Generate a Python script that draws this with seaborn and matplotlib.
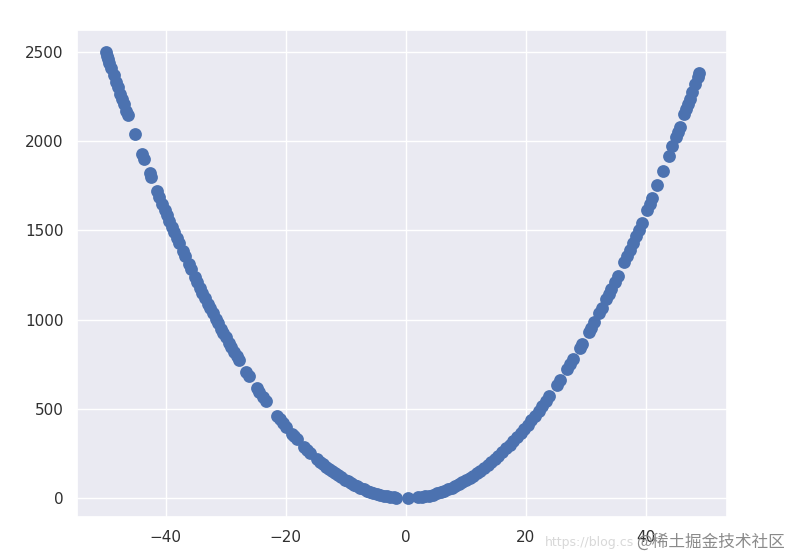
import seaborn as sns
import pandas as pd
import matplotlib.pyplot as plt
from matplotlib import use

use('agg')

# values (x position, y position of each dot)
x_vals = [
    -50.0, -49.8, -49.6, -49.4, -49.1, -48.7, -48.3, -48.0, -47.6, -47.3,
    -47.0, -46.6, -46.3, -45.2, -43.9, -43.6, -42.7, -42.4, -41.5, -41.1,
    -40.6, -40.2, -39.8, -39.4, -39.0, -38.6, -38.2, -37.8, -37.2, -36.8,
    -36.2, -35.8, -35.2, -34.8, -34.3, -33.9, -33.5, -33.0, -32.6, -32.2,
    -31.7, -31.3, -30.8, -30.4, -30.0, -29.5, -29.1, -28.6, -28.2, -27.8,
    -26.6, -26.2, -24.8, -24.4, -23.8, -23.3, -21.4, -21.0, -20.5, -20.0,
    -19.0, -18.6, -18.2, -16.9, -16.4, -15.9, -14.8, -14.3, -13.8, -13.3,
    -12.8, -12.3, -11.8, -11.3, -10.8, -10.2, -9.7, -9.2, -8.6, -8.1,
    -7.6, -7.0, -6.5, -5.9, -5.4, -4.8, -4.3, -3.7, -3.1, -2.6,
    -2.0, -1.6, 0.3, 2.0, 2.6, 3.2, 3.8, 4.5, 5.1, 5.8,
    6.4, 7.0, 7.6, 8.2, 8.8, 9.4, 10.0, 10.6, 11.2, 11.8,
    12.4, 13.0, 13.6, 14.2, 14.8, 15.4, 16.0, 16.7, 17.3, 17.9,
    18.5, 19.1, 19.7, 20.3, 20.9, 21.5, 22.1, 22.7, 23.3, 23.9,
    25.2, 25.7, 26.9, 27.4, 27.9, 29.0, 29.4, 30.5, 30.9, 31.4,
    32.2, 32.6, 33.4, 33.8, 34.2, 34.8, 35.3, 36.4, 36.8, 37.3,
    37.8, 38.3, 38.8, 39.3, 40.2, 40.6, 41.0, 41.9, 42.8, 43.8,
    44.4, 45.0, 45.3, 45.6, 46.4, 46.7, 47.0, 47.3, 47.7, 48.2,
    48.6, 48.8,
]
y_vals = [
    2500, 2480, 2460, 2440, 2411, 2372, 2333, 2304, 2266, 2237,
    2209, 2172, 2144, 2043, 1927, 1901, 1823, 1798, 1722, 1689,
    1648, 1616, 1584, 1552, 1521, 1490, 1459, 1429, 1384, 1354,
    1310, 1282, 1239, 1211, 1176, 1149, 1122, 1089, 1063, 1037,
    1005, 980, 949, 924, 900, 870, 847, 818, 795, 773,
    708, 686, 615, 595, 566, 543, 458, 441, 420, 400,
    361, 346, 331, 286, 269, 253, 219, 204, 190, 177,
    164, 151, 139, 128, 117, 104, 94, 85, 74, 66,
    58, 49, 42, 35, 29, 23, 18, 14, 10, 7,
    4, 3, 0, 4, 7, 10, 14, 20, 26, 34,
    41, 49, 58, 67, 77, 88, 100, 112, 125, 139,
    154, 169, 185, 202, 219, 237, 256, 279, 299, 320,
    342, 365, 388, 412, 437, 462, 488, 515, 543, 571,
    635, 660, 724, 751, 778, 841, 864, 930, 955, 986,
    1037, 1063, 1116, 1142, 1170, 1211, 1246, 1325, 1354, 1391,
    1429, 1467, 1505, 1544, 1616, 1648, 1681, 1756, 1832, 1918,
    1971, 2025, 2052, 2079, 2153, 2181, 2209, 2237, 2275, 2323,
    2362, 2381,
]

watermark_url = 'https://blog.cs'
watermark_site = '@稀土掘金技术社区'

df = pd.DataFrame({'x': x_vals, 'y': y_vals})

sns.set_theme(style='darkgrid', palette='deep')
plt.rcParams['font.family'] = ['DejaVu Sans', 'Noto Sans CJK SC']

fig = plt.figure(figsize=(7.87, 5.59), dpi=100)
ax = fig.add_axes([0.0978, 0.0751, 0.826, 0.8712])
sns.scatterplot(data=df, x='x', y='y', s=85, linewidth=0, color='#4C72B0', ax=ax)
ax.set_xlim(-54.8, 53.5)
ax.set_ylim(-106, 2623)
ax.set_xticks([-40, -20, 0, 20, 40])
ax.set_yticks([0, 500, 1000, 1500, 2000, 2500])
ax.set_xlabel('')
ax.set_ylabel('')
ax.tick_params(labelsize=11, colors='#303030')

# watermark in the lower right corner
fig.text(0.692, 0.030, watermark_url, fontsize=9, color='#d8d8d8',
         ha='left', va='center')
fig.text(0.808, 0.030, watermark_site, fontsize=12, color='#8a8a8a',
         ha='left', va='center', family=['Noto Sans CJK SC', 'DejaVu Sans'])

plt.savefig('out.png', dpi=100)
